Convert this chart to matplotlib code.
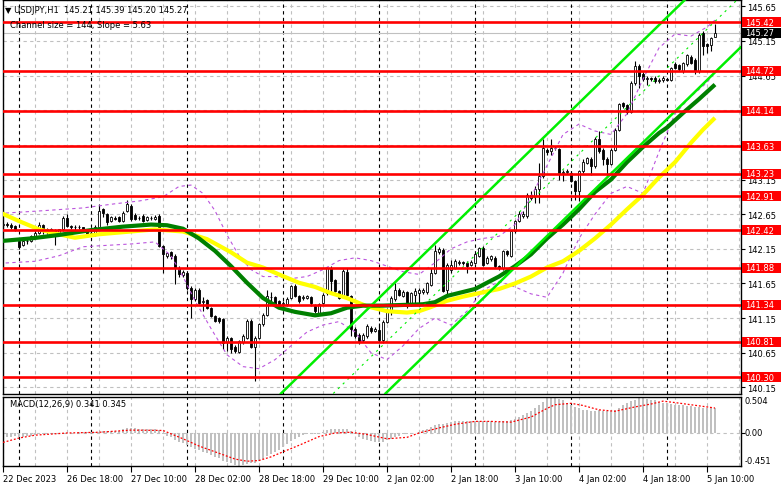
import matplotlib
matplotlib.use("Agg")
import matplotlib.pyplot as plt
from matplotlib.patches import Rectangle
import numpy as np

plt.rcParams['font.family'] = 'DejaVu Sans'

# USDJPY H1 candles (index 0 = 22 Dec 2023 ... index 178 = 5 Jan 12:00)
opens = [142.49, 142.51, 142.49, 142.48, 142.27, 142.21, 142.26, 142.27, 142.33, 142.38,
         142.49, 142.40, 142.43, 142.42, 142.37, 142.43, 142.60, 142.48, 142.46, 142.47,
         142.46, 142.42, 142.38, 142.37, 142.47, 142.72, 142.65, 142.55, 142.60, 142.61,
         142.55, 142.69, 142.77, 142.64, 142.60, 142.63, 142.56, 142.60, 142.58, 142.62,
         142.19, 142.04, 142.10, 142.05, 141.88, 141.77, 141.80, 141.59, 141.42, 141.56,
         141.38, 141.41, 141.30, 141.18, 141.15, 141.13, 140.80, 140.86, 140.73, 140.66,
         140.80, 140.87, 141.11, 140.74, 140.87, 141.06, 141.20, 141.46, 141.45, 141.39,
         141.36, 141.35, 141.44, 141.61, 141.47, 141.44, 141.44, 141.45, 141.33, 141.23,
         141.37, 141.51, 141.87, 141.70, 141.54, 141.46, 141.82, 141.47, 141.00, 140.91,
         140.84, 140.89, 141.01, 140.97, 140.98, 140.84, 141.10, 141.27, 141.42, 141.56,
         141.47, 141.52, 141.34, 141.49, 141.51, 141.52, 141.52, 141.63, 141.80, 142.10,
         142.14, 141.56, 141.85, 141.88, 141.95, 141.96, 141.95, 141.92, 141.95, 142.05,
         142.16, 141.95, 142.00, 142.02, 141.90, 141.87, 142.12, 142.05, 142.40, 142.55,
         142.63, 142.62, 142.89, 142.91, 143.01, 143.20, 143.58, 143.56, 143.61, 143.59,
         143.25, 143.26, 143.25, 143.13, 142.98, 143.27, 143.39, 143.45, 143.34, 143.74,
         143.58, 143.45, 143.38, 143.58, 143.87, 144.25, 144.22, 144.13, 144.55, 144.79,
         144.67, 144.60, 144.61, 144.62, 144.57, 144.59, 144.60, 144.59, 144.81, 144.80,
         144.71, 144.81, 144.92, 144.88, 144.71, 145.26, 145.10, 145.085, 145.21]
highs = [142.53, 142.53, 142.52, 142.50, 142.29, 142.31, 142.30, 142.35, 142.40, 142.53,
         142.51, 142.45, 142.45, 142.44, 142.44, 142.62, 142.65, 142.50, 142.50, 142.49,
         142.47, 142.43, 142.40, 142.49, 142.80, 142.74, 142.66, 142.62, 142.62, 142.63,
         142.69, 142.85, 142.79, 142.66, 142.62, 142.65, 142.63, 142.62, 142.64, 142.65,
         142.20, 142.11, 142.12, 142.07, 141.90, 141.84, 141.82, 141.61, 141.58, 141.58,
         141.46, 141.42, 141.31, 141.20, 141.17, 141.15, 140.89, 140.88, 140.76, 140.84,
         140.92, 141.14, 141.13, 140.89, 141.08, 141.23, 141.56, 141.53, 141.47, 141.41,
         141.40, 141.45, 141.63, 141.64, 141.49, 141.48, 141.49, 141.47, 141.35, 141.37,
         141.51, 141.89, 141.90, 141.72, 141.56, 141.86, 141.88, 141.49, 141.02, 140.93,
         140.93, 141.06, 141.04, 141.02, 141.08, 141.12, 141.29, 141.47, 141.66, 141.58,
         141.55, 141.54, 141.53, 141.59, 141.59, 141.58, 141.67, 141.88, 142.21, 142.17,
         142.16, 141.95, 141.99, 142.00, 141.99, 141.98, 141.97, 141.99, 142.09, 142.18,
         142.19, 142.04, 142.06, 142.04, 141.92, 142.14, 142.14, 142.42, 142.57, 142.69,
         142.70, 142.96, 142.98, 143.05, 143.39, 143.73, 143.60, 143.73, 143.64, 143.61,
         143.29, 143.30, 143.27, 143.15, 143.29, 143.44, 143.48, 143.47, 143.76, 143.85,
         143.60, 143.47, 143.60, 143.89, 144.26, 144.27, 144.24, 144.57, 144.86, 144.81,
         144.70, 144.64, 144.63, 144.64, 144.62, 144.65, 144.62, 144.78, 144.84, 144.82,
         144.85, 144.96, 144.95, 144.90, 145.26, 145.30, 145.12, 145.21, 145.39]
lows = [142.47, 142.46, 142.43, 142.41, 142.15, 142.19, 142.22, 142.25, 142.31, 142.36,
        142.37, 142.37, 142.40, 142.21, 142.35, 142.41, 142.46, 142.44, 142.42, 142.44,
        142.39, 142.35, 142.33, 142.33, 142.46, 142.61, 142.49, 142.53, 142.56, 142.54,
        142.54, 142.68, 142.55, 142.56, 142.57, 142.53, 142.55, 142.57, 142.57, 142.17,
        141.80, 142.02, 142.01, 141.64, 141.74, 141.75, 141.56, 141.15, 141.40, 141.35,
        141.25, 141.28, 141.16, 141.09, 141.08, 140.70, 140.67, 140.65, 140.64, 140.64,
        140.77, 140.85, 140.72, 140.24, 140.85, 141.04, 141.18, 141.40, 141.33, 141.32,
        141.33, 141.33, 141.42, 141.45, 141.37, 141.41, 141.42, 141.32, 141.22, 141.21,
        141.35, 141.49, 141.51, 141.52, 141.42, 141.44, 141.46, 140.89, 140.86, 140.77,
        140.81, 140.87, 140.93, 140.95, 140.80, 140.79, 141.08, 141.20, 141.40, 141.47,
        141.45, 141.30, 141.32, 141.35, 141.32, 141.50, 141.50, 141.61, 141.78, 142.08,
        141.52, 141.49, 141.80, 141.86, 141.92, 141.91, 141.80, 141.90, 141.93, 142.03,
        141.90, 141.93, 141.98, 141.88, 141.84, 141.85, 142.05, 142.03, 142.38, 142.53,
        142.60, 142.60, 142.86, 142.81, 142.81, 143.17, 143.50, 143.50, 143.57, 143.15,
        143.13, 143.23, 143.11, 142.86, 142.84, 143.25, 143.37, 143.22, 143.32, 143.53,
        143.36, 143.20, 143.36, 143.56, 143.85, 144.18, 144.09, 144.11, 144.52, 144.47,
        144.57, 144.52, 144.57, 144.55, 144.55, 144.56, 144.57, 144.57, 144.74, 144.71,
        144.69, 144.79, 144.81, 144.68, 144.69, 144.95, 144.98, 145.00, 145.20]
closes = [142.51, 142.49, 142.47, 142.43, 142.18, 142.26, 142.27, 142.33, 142.38, 142.50,
          142.40, 142.43, 142.42, 142.37, 142.43, 142.60, 142.48, 142.46, 142.47, 142.46,
          142.41, 142.37, 142.36, 142.47, 142.69, 142.66, 142.53, 142.61, 142.58, 142.55,
          142.67, 142.79, 142.58, 142.58, 142.59, 142.55, 142.61, 142.59, 142.61, 142.19,
          142.07, 142.09, 142.04, 141.88, 141.78, 141.81, 141.59, 141.42, 141.56, 141.37,
          141.39, 141.30, 141.18, 141.11, 141.11, 140.79, 140.86, 140.70, 140.68, 140.82,
          140.89, 141.11, 140.74, 140.87, 141.06, 141.20, 141.47, 141.45, 141.35, 141.35,
          141.37, 141.43, 141.61, 141.47, 141.39, 141.45, 141.47, 141.37, 141.25, 141.35,
          141.49, 141.87, 141.68, 141.54, 141.44, 141.83, 141.49, 140.99, 140.89, 140.82,
          140.90, 141.03, 140.96, 140.99, 140.84, 141.10, 141.27, 141.44, 141.55, 141.49,
          141.52, 141.32, 141.51, 141.54, 141.55, 141.56, 141.65, 141.80, 142.12, 142.15,
          141.54, 141.92, 141.92, 141.97, 141.96, 141.94, 141.90, 141.96, 142.07, 142.16,
          141.92, 142.02, 142.04, 141.90, 141.87, 142.12, 142.07, 142.40, 142.55, 142.65,
          142.65, 142.93, 142.93, 143.02, 143.20, 143.61, 143.54, 143.61, 143.60, 143.25,
          143.26, 143.27, 143.13, 142.98, 143.27, 143.41, 143.46, 143.34, 143.74, 143.56,
          143.45, 143.38, 143.58, 143.87, 144.24, 144.21, 144.13, 144.55, 144.79, 144.65,
          144.60, 144.61, 144.60, 144.57, 144.59, 144.61, 144.59, 144.76, 144.76, 144.74,
          144.83, 144.94, 144.83, 144.71, 145.24, 145.07, 145.08, 145.19, 145.27]

# moving averages read at sample candles
green_idx = [-1, 7, 14, 22, 30, 37, 41, 45, 49, 53, 57, 61, 65, 69, 73, 78, 82, 86, 90, 95,
             100, 105, 108, 111, 118, 124, 128, 132, 136, 140, 144, 148, 152, 156, 160, 164,
             166, 170, 174, 178]
green_val = [142.26, 142.30, 142.35, 142.42, 142.47, 142.50, 142.49, 142.44, 142.30, 142.12,
             141.90, 141.66, 141.44, 141.30, 141.24, 141.19, 141.22, 141.30, 141.33, 141.33,
             141.34, 141.35, 141.38, 141.47, 141.57, 141.75, 141.90, 142.07, 142.30, 142.50,
             142.72, 142.97, 143.15, 143.40, 143.62, 143.82, 143.90, 144.11, 144.31, 144.52]
yellow_idx = [-1, 4, 9, 14, 18, 24, 32, 38, 45, 51, 57, 61, 65, 69, 74, 78, 82, 86, 91, 96,
              101, 104, 107, 111, 115, 119, 124, 128, 132, 136, 140, 144, 148, 152, 156, 160,
              164, 168, 172, 175, 178]
yellow_val = [142.68, 142.55, 142.43, 142.36, 142.31, 142.36, 142.40, 142.43, 142.40, 142.29,
              142.10, 141.95, 141.88, 141.78, 141.66, 141.60, 141.51, 141.44, 141.32, 141.25,
              141.23, 141.25, 141.31, 141.40, 141.46, 141.51, 141.57, 141.65, 141.75, 141.88,
              141.97, 142.12, 142.30, 142.50, 142.72, 142.93, 143.18, 143.40, 143.68, 143.87,
              144.04]
upper_idx = [-1, 10, 20, 28, 34, 40, 44, 47, 50, 53, 56, 59, 62, 65, 68, 72, 76, 80, 84, 88,
             92, 96, 100, 104, 108, 112, 116, 120, 124, 128, 132, 136, 140, 144, 148, 152,
             156, 160, 164, 168, 172, 176, 178]
upper_val = [142.66, 142.70, 142.74, 142.80, 142.84, 142.90, 143.05, 143.07, 142.95, 142.70,
             142.35, 142.05, 141.85, 141.75, 141.75, 141.72, 141.75, 141.85, 141.98, 142.02,
             141.98, 141.90, 141.82, 141.78, 141.95, 142.15, 142.25, 142.30, 142.33, 142.50,
             142.90, 143.35, 143.80, 143.95, 143.85, 143.80, 144.10, 144.60, 145.05, 145.25,
             145.22, 145.35, 145.45]
lower_idx = [-1, 8, 14, 20, 26, 32, 38, 42, 45, 48, 52, 56, 60, 64, 68, 72, 76, 80, 84, 88,
             92, 96, 100, 104, 108, 112, 116, 120, 124, 128, 132, 136, 140, 144, 148, 152,
             156, 160, 164, 168, 172, 176, 178]
lower_val = [141.94, 141.97, 142.05, 142.18, 142.20, 142.22, 142.25, 142.05, 141.75, 141.40,
             141.00, 140.62, 140.45, 140.42, 140.55, 140.75, 140.95, 141.05, 141.10, 140.95,
             140.65, 140.55, 140.75, 141.00, 141.15, 141.05, 141.25, 141.55, 141.68, 141.60,
             141.50, 141.45, 141.80, 142.30, 142.65, 142.95, 143.05, 142.95, 143.55, 144.10,
             144.35, 144.55, 144.70]

# equidistant channel: upper line anchors, channel size
chan_idx = [70, 169.7]
chan_top = [140.09, 145.70]
chan_size = 1.47

levels = [145.42, 144.72, 144.14, 143.63, 143.23, 142.91, 142.42, 141.88, 141.34, 140.81, 140.30]
grid_prices = [140.15, 140.65, 141.15, 141.65, 142.15, 142.65, 143.15, 143.65, 144.15, 144.65,
               145.15, 145.65]
# labels fully hidden behind the level boxes are left out
label_prices = [140.15, 140.65, 141.15, 141.65, 142.15, 142.65, 143.15, 144.65, 145.15, 145.65]
last_price = 145.27

macd_hist = [-0.05, -0.05, -0.05, -0.04,
             -0.05, -0.05, -0.04, -0.04, -0.03, -0.02, -0.02, -0.02, -0.02, -0.02, -0.02, -0.01,
             0.00, 0.00, 0.00, 0.01, 0.01, 0.01, 0.01, 0.01, 0.02, 0.03, 0.03, 0.03, 0.03, 0.03,
             0.05, 0.07, 0.07, 0.07, 0.06, 0.06, 0.05, 0.05, 0.05, 0.04,
             -0.01, -0.04, -0.06, -0.09, -0.12, -0.14, -0.17, -0.20, -0.22, -0.24,
             -0.26, -0.28, -0.31, -0.33, -0.35, -0.38, -0.40, -0.42, -0.44, -0.45,
             -0.44, -0.43, -0.42, -0.41, -0.39, -0.36, -0.32, -0.29, -0.26, -0.23,
             -0.19, -0.15, -0.11, -0.08, -0.05, -0.03, -0.02, -0.02, -0.02, -0.01,
             0.01, 0.04, 0.06, 0.06, 0.05, 0.06, 0.06, 0.03, -0.01, -0.05,
             -0.08, -0.10, -0.11, -0.12, -0.13, -0.12, -0.10, -0.08, -0.06, -0.04,
             -0.02, -0.02, -0.01, 0.00, 0.02, 0.04, 0.06, 0.08, 0.11, 0.13,
             0.13, 0.14, 0.15, 0.16, 0.16, 0.16, 0.16, 0.16, 0.17, 0.17,
             0.16, 0.16, 0.16, 0.15, 0.15, 0.16, 0.16, 0.18, 0.20, 0.22,
             0.25, 0.28, 0.31, 0.34, 0.38, 0.43, 0.48, 0.50, 0.50, 0.47,
             0.45, 0.42, 0.39, 0.36, 0.34, 0.32, 0.32, 0.31, 0.31, 0.32,
             0.31, 0.30, 0.30, 0.32, 0.35, 0.38, 0.41, 0.44, 0.46, 0.48,
             0.48, 0.47, 0.46, 0.45, 0.43, 0.42, 0.41, 0.40, 0.39, 0.38,
             0.38, 0.37, 0.37, 0.36, 0.36, 0.35, 0.35, 0.34, 0.341]
signal_idx = [0, 4, 8, 16, 24, 32, 40, 45, 49, 54, 58, 61, 64, 67, 70, 74, 79, 83, 87, 91,
              96, 101, 104, 109, 113, 118, 122, 127, 132, 136, 138, 142, 145, 149, 153, 158,
              162, 165, 168, 172, 176, 178]
signal_val = [-0.13, -0.07, -0.03, 0.00, 0.01, 0.04, 0.035, -0.08, -0.18, -0.28, -0.36,
              -0.39, -0.38, -0.33, -0.26, -0.17, -0.05, 0.00, 0.01, -0.02, -0.08, -0.06, 0.00,
              0.07, 0.12, 0.16, 0.16, 0.15, 0.22, 0.34, 0.39, 0.41, 0.38, 0.32, 0.30, 0.36,
              0.40, 0.44, 0.42, 0.39, 0.36, 0.345]

tick_pos = list(range(0, 177, 16))
tick_labels = ['22 Dec 2023', '26 Dec 18:00', '27 Dec 10:00', '28 Dec 02:00', '28 Dec 18:00',
               '29 Dec 10:00', '2 Jan 02:00', '2 Jan 18:00', '3 Jan 10:00', '4 Jan 02:00',
               '4 Jan 18:00', '5 Jan 10:00']
day_breaks = [4, 22, 46, 70, 94, 118, 142, 166]

W, H = 781, 489
fig = plt.figure(figsize=(W / 100, H / 100), dpi=100)


def px_axes(l, t, r, b):
    return fig.add_axes([l / W, 1 - b / H, (r - l) / W, (b - t) / H])


ax = px_axes(2.5, 0.5, 740.5, 394.5)
mx = px_axes(2.5, 397.5, 740.5, 466.5)
xlim = (-0.125, 184.375)
fs = 6
grid_c = '#C0C0C0'

# ---- price panel ----
ax.set_xlim(*xlim)
ax.set_ylim(140.062, 145.748)
for g in grid_prices:
    ax.axhline(g, color=grid_c, lw=0.8, ls=(0, (3, 3)), zorder=0.5)
for gx in range(0, 185, 8):
    ax.axvline(gx, color=grid_c, lw=0.8, ls=(0, (3, 3)), zorder=0.5)
    mx.axvline(gx, color=grid_c, lw=0.8, ls=(0, (3, 3)), zorder=0.5)
for d in day_breaks:
    ax.axvline(d, color='black', lw=0.8, ls=(0, (3, 3)), zorder=0.6)
    mx.axvline(d, color='black', lw=0.8, ls=(0, (3, 3)), zorder=0.6)
ax.axhline(last_price, color=grid_c, lw=0.8, zorder=0.7)

o = np.array(opens); c = np.array(closes)
xs = np.arange(len(o))
ax.vlines(xs, lows, highs, color='black', lw=0.8, zorder=3)
body_lo = np.minimum(o, c)
body_h = np.maximum(np.abs(c - o), 0.004)
ax.bar(xs, body_h, bottom=body_lo, width=0.68,
       color=np.where(c >= o, 'white', 'black'), edgecolor='black', linewidth=0.6, zorder=3.5)

ax.plot(upper_idx, upper_val, color='#BB55DD', lw=0.8, ls=(0, (3, 3)), zorder=4)
ax.plot(lower_idx, lower_val, color='#BB55DD', lw=0.8, ls=(0, (3, 3)), zorder=4)
ax.plot(yellow_idx, yellow_val, color='#FFFF00', lw=3.0, zorder=4.2, solid_capstyle='butt')
ax.plot(green_idx, green_val, color='#008000', lw=3.0, zorder=4.3, solid_capstyle='butt')

p1 = (chan_idx[0], chan_top[0]); p2 = (chan_idx[1], chan_top[1])
ax.axline(p1, p2, color='#00EE00', lw=1.8, zorder=4.5)
ax.axline((p1[0], p1[1] - chan_size / 2), (p2[0], p2[1] - chan_size / 2),
          color='#00EE00', lw=0.8, ls=(0, (2, 4)), zorder=4.5)
ax.axline((p1[0], p1[1] - chan_size), (p2[0], p2[1] - chan_size),
          color='#00EE00', lw=1.8, zorder=4.5)

for lv in levels:
    ax.axhline(lv, color='#FF0000', lw=1.9, zorder=5)

ax.yaxis.tick_right()
ax.set_yticks(grid_prices)
ax.set_yticklabels([f'{g:.2f}' if g in label_prices else '' for g in grid_prices], fontsize=fs)
ax.tick_params(axis='y', length=3, pad=2, width=0.8)
ax.set_xticks([])
for s in ax.spines.values():
    s.set_linewidth(1.0)

tr = ax.get_yaxis_transform()
bx0 = (742 - 2.5) / 738
bw = (781 - 742) / 738
bh = 10 / 69.3
for lv in levels:
    ax.add_patch(Rectangle((bx0, lv - bh / 2), bw, bh, transform=tr, clip_on=False,
                           facecolor='#FF0000', edgecolor='none', zorder=6))
    ax.text(bx0 + 3 / 738, lv, f'{lv:.2f}', transform=tr, color='white', fontsize=fs,
            va='center', ha='left', zorder=7, clip_on=False)
ax.add_patch(Rectangle((bx0, last_price - bh / 2), bw, bh, transform=tr, clip_on=False,
                       facecolor='black', edgecolor='none', zorder=6))
ax.text(bx0 + 3 / 738, last_price, f'{last_price:.2f}', transform=tr, color='white',
        fontsize=fs, va='center', ha='left', zorder=7, clip_on=False)

fig.text(5 / W, 1 - 10.5 / H, '\u25bc USDJPY,H1  145.21 145.39 145.20 145.27',
         fontsize=fs, va='center', ha='left')
fig.text(10 / W, 1 - 25 / H, 'Channel size = 144, Slope = 5.63',
         fontsize=fs, va='center', ha='left', zorder=10)

# ---- MACD panel ----
mx.set_xlim(*xlim)
mx.set_ylim(-0.449, 0.504)
mx.axhline(0, color=grid_c, lw=0.8, ls=(0, (3, 3)), zorder=0.5)
mx.bar(xs, macd_hist, width=0.65, color='#C0C0C0', zorder=2)
mx.plot(signal_idx, signal_val, color='#FF0000', lw=0.9, ls=(0, (1.5, 1.5)), zorder=3)
mx.yaxis.tick_right()
mx.set_yticks([0.0])
mx.set_yticklabels([])
mx.tick_params(axis='y', length=3, width=0.8)
trm = mx.get_yaxis_transform()
mx.text(1.006, 0.0, '0.00', transform=trm, fontsize=fs, va='center', ha='left', clip_on=False)
mx.text(1.006, 0.504, '0.504', transform=trm, fontsize=fs, va='top', ha='left', clip_on=False)
mx.text(1.006, -0.449, '-0.451', transform=trm, fontsize=fs, va='bottom', ha='left',
        clip_on=False)
mx.set_xticks(tick_pos)
mx.set_xticklabels(tick_labels, fontsize=fs, ha='left')
mx.tick_params(axis='x', length=4, width=0.8, pad=2)
for s in mx.spines.values():
    s.set_linewidth(1.0)
mx.text(8 / 738, 1 - 7 / 69, 'MACD(12,26,9) 0.341 0.345', transform=mx.transAxes,
        fontsize=fs, va='center', ha='left')

fig.savefig('out.png', dpi=100)
